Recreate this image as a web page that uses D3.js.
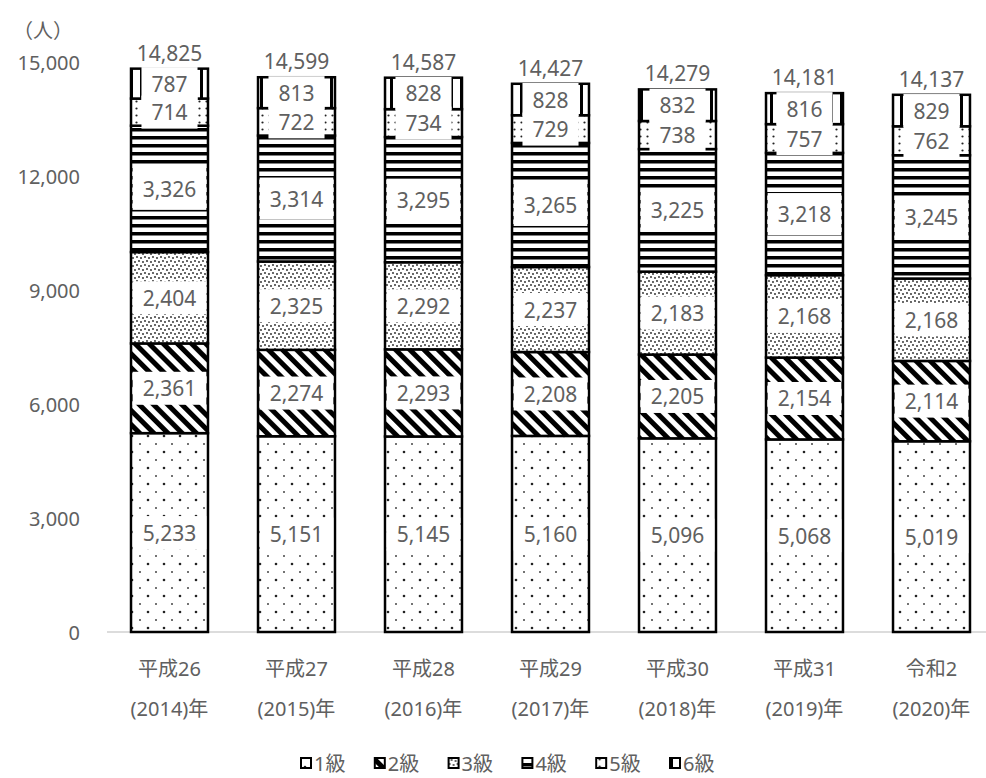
<!DOCTYPE html>
<html>
<head>
<meta charset="utf-8">
<script src="https://cdn.jsdelivr.net/npm/d3@7"></script>
<style>
  body { margin: 0; background: #fff; }
  text { font-family: "Noto Sans", "Noto Sans CJK JP", sans-serif; fill: #606060; }
</style>
</head>
<body>
<div class="chart"></div>
<script>
const eras = ['平成26', '平成27', '平成28', '平成29', '平成30', '平成31', '令和2'];
const years = ['(2014)年', '(2015)年', '(2016)年', '(2017)年', '(2018)年', '(2019)年', '(2020)年'];
const grades = ['1級', '2級', '3級', '4級', '5級', '6級'];

const grade1 = [5233, 5151, 5145, 5160, 5096, 5068, 5019];
const grade2 = [2361, 2274, 2293, 2208, 2205, 2154, 2114];
const grade3 = [2404, 2325, 2292, 2237, 2183, 2168, 2168];
const grade4 = [3326, 3314, 3295, 3265, 3225, 3218, 3245];
const grade5 = [714, 722, 734, 729, 738, 757, 762];
const grade6 = [787, 813, 828, 828, 832, 816, 829];
const totals = [14825, 14599, 14587, 14427, 14279, 14181, 14137];

const yTicks = [0, 3000, 6000, 9000, 12000, 15000];

const series = [grade1, grade2, grade3, grade4, grade5, grade6];

const W = 986, H = 778;

const svg = d3.select('.chart')
  .append('svg')
  .attr('width', W)
  .attr('height', H);

// fill patterns, one per grade
const defs = svg.append('defs');

const p1 = defs.append('pattern').attr('id', 'pat0')
  .attr('patternUnits', 'userSpaceOnUse').attr('width', 16).attr('height', 16);
p1.append('rect').attr('width', 16).attr('height', 16).attr('fill', '#fff');
p1.append('circle').attr('cx', 4).attr('cy', 4).attr('r', 1.3).attr('fill', '#222');
p1.append('circle').attr('cx', 12).attr('cy', 12).attr('r', 1.0).attr('fill', '#444');

const p2 = defs.append('pattern').attr('id', 'pat1')
  .attr('patternUnits', 'userSpaceOnUse').attr('width', 10).attr('height', 10)
  .attr('patternTransform', 'rotate(-45)');
p2.append('rect').attr('width', 10).attr('height', 10).attr('fill', '#fff');
p2.append('rect').attr('width', 5).attr('height', 10).attr('fill', '#000');

const p3 = defs.append('pattern').attr('id', 'pat2')
  .attr('patternUnits', 'userSpaceOnUse').attr('width', 8).attr('height', 8);
p3.append('rect').attr('width', 8).attr('height', 8).attr('fill', '#fff');
[[1, 1], [5, 2], [3, 5], [7, 6]].forEach(c =>
  p3.append('circle').attr('cx', c[0]).attr('cy', c[1]).attr('r', 0.9).attr('fill', '#222'));

const p4 = defs.append('pattern').attr('id', 'pat3')
  .attr('patternUnits', 'userSpaceOnUse').attr('width', 8).attr('height', 8);
p4.append('rect').attr('width', 8).attr('height', 8).attr('fill', '#fff');
p4.append('rect').attr('width', 8).attr('height', 3.5).attr('fill', '#000');

const p5 = defs.append('pattern').attr('id', 'pat4')
  .attr('patternUnits', 'userSpaceOnUse').attr('width', 7).attr('height', 7);
p5.append('rect').attr('width', 7).attr('height', 7).attr('fill', '#fff');
p5.append('circle').attr('cx', 3.5).attr('cy', 3.5).attr('r', 1.1).attr('fill', '#222');

const p6 = defs.append('pattern').attr('id', 'pat5')
  .attr('patternUnits', 'userSpaceOnUse').attr('width', 10).attr('height', 10);
p6.append('rect').attr('width', 10).attr('height', 10).attr('fill', '#fff');
p6.append('rect').attr('width', 3).attr('height', 10).attr('fill', '#000');

const xScale = d3.scaleBand()
  .domain(eras)
  .range([106, 995])
  .paddingInner(0.394)
  .paddingOuter(0.197);

const yScale = d3.scaleLinear()
  .domain([0, 15000])
  .range([632, 62]);

// stack the grades
const rows = eras.map((e, i) => {
  const r = { era: e };
  grades.forEach((g, k) => r[g] = series[k][i]);
  return r;
});
const stacked = d3.stack().keys(grades)(rows);

// axis baseline
svg.append('line')
  .attr('x1', 107).attr('x2', W)
  .attr('y1', yScale(0)).attr('y2', yScale(0))
  .attr('stroke', '#d0d0d0').attr('stroke-width', 1.5);

// y tick labels
svg.selectAll('.ytick')
  .data(yTicks)
  .enter()
  .append('text')
  .attr('class', 'ytick')
  .attr('x', 80)
  .attr('y', d => yScale(d))
  .attr('text-anchor', 'end')
  .attr('dominant-baseline', 'central')
  .attr('font-size', 20)
  .text(d => d3.format(',')(d));

svg.append('text')
  .attr('x', 43).attr('y', 30)
  .attr('text-anchor', 'middle')
  .attr('dominant-baseline', 'central')
  .attr('font-size', 20)
  .text('（人）');

// segments
const layers = svg.selectAll('.layer')
  .data(stacked)
  .enter()
  .append('g')
  .attr('class', 'layer')
  .attr('fill', (d, k) => `url(#pat${k})`);

layers.selectAll('rect')
  .data(d => d)
  .enter()
  .append('rect')
  .attr('x', d => xScale(d.data.era))
  .attr('y', d => yScale(d[1]))
  .attr('width', xScale.bandwidth())
  .attr('height', d => yScale(d[0]) - yScale(d[1]))
  .attr('stroke', '#000')
  .attr('stroke-width', 2.5);

// value labels with white boxes
const labels = svg.append('g');
stacked.forEach((layer, k) => {
  layer.forEach((d, i) => {
    const cx = xScale(d.data.era) + xScale.bandwidth() / 2;
    const cy = (yScale(d[0]) + yScale(d[1])) / 2;
    const g = labels.append('g');
    const t = g.append('text')
      .attr('x', cx).attr('y', cy)
      .attr('text-anchor', 'middle')
      .attr('dominant-baseline', 'central')
      .attr('font-size', 21)
      .text(d3.format(',')(series[k][i]));
    const tw = t.node().getComputedTextLength();
    const bw = Math.min(tw + 20, xScale.bandwidth() - 3);
    const bh = k === 3 ? 42 : 33;
    g.insert('rect', 'text')
      .attr('x', cx - bw / 2).attr('y', cy - bh / 2)
      .attr('width', bw).attr('height', bh)
      .attr('fill', '#fff');
  });
});

// totals
svg.selectAll('.total')
  .data(totals)
  .enter()
  .append('text')
  .attr('class', 'total')
  .attr('x', (d, i) => xScale(eras[i]) + xScale.bandwidth() / 2)
  .attr('y', d => yScale(d) - 16)
  .attr('text-anchor', 'middle')
  .attr('dominant-baseline', 'central')
  .attr('font-size', 21)
  .text(d => d3.format(',')(d));

// category labels
svg.selectAll('.era')
  .data(eras)
  .enter()
  .append('text')
  .attr('x', d => xScale(d) + xScale.bandwidth() / 2)
  .attr('y', 668)
  .attr('text-anchor', 'middle')
  .attr('dominant-baseline', 'central')
  .attr('font-size', 20)
  .text(d => d);

svg.selectAll('.year')
  .data(years)
  .enter()
  .append('text')
  .attr('x', (d, i) => xScale(eras[i]) + xScale.bandwidth() / 2)
  .attr('y', 708)
  .attr('text-anchor', 'middle')
  .attr('dominant-baseline', 'central')
  .attr('font-size', 20)
  .text(d => d);

// legend
const legend = svg.append('g')
  .attr('transform', 'translate(301, 763)');

const items = legend.selectAll('.item')
  .data(grades)
  .enter()
  .append('g')
  .attr('transform', (d, i) => `translate(${i * 73.8}, 0)`);

items.append('rect')
  .attr('x', 0).attr('y', -5)
  .attr('width', 10).attr('height', 10)
  .attr('fill', (d, k) => `url(#pat${k})`)
  .attr('stroke', '#000')
  .attr('stroke-width', 2);

items.append('text')
  .attr('x', 13).attr('y', 0)
  .attr('dominant-baseline', 'central')
  .attr('font-size', 20)
  .text(d => d);
</script>
</body>
</html>
